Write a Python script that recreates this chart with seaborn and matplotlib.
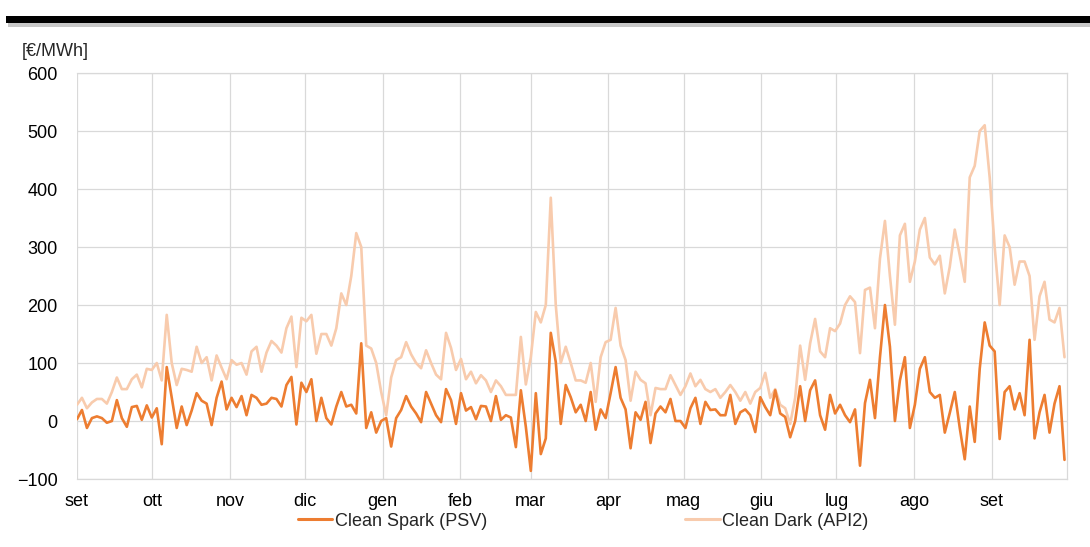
import pandas as pd
import matplotlib.pyplot as plt
from matplotlib.patches import Rectangle
import seaborn as sns

clean_dark = [
    28, 40, 22, 32, 38, 38, 30, 50, 75, 55, 55, 72, 80, 58, 90, 88,
    100, 70, 183, 100, 62, 90, 88, 85, 128, 100, 110, 70, 113, 92, 72,
    105, 97, 100, 80, 120, 128, 85, 118, 138, 130, 118, 160, 180, 93, 178,
    172, 183, 116, 150, 150, 130, 160, 220, 200, 250, 324, 300, 130, 125, 100, 50,
    10, 75, 105, 110, 136, 115, 100, 91, 122, 100, 80, 72, 152, 126, 88,
    107, 72, 85, 65, 79, 70, 50, 70, 60, 45, 45, 45, 145, 63, 110,
    188, 170, 200, 385, 200, 100, 128, 100, 70, 70, 66, 100, 33, 110, 136,
    140, 195, 130, 105, 35, 85, 71, 65, 10, 57, 55, 55, 79, 62, 45,
    60, 82, 60, 71, 55, 50, 55, 40, 50, 62, 50, 35, 50, 30, 50,
    57, 83, 40, 55, 28, 22, -5, 40, 130, 71, 134, 176, 120, 110, 160, 155,
    168, 200, 215, 205, 117, 226, 230, 160, 280, 345, 250, 166, 320, 340, 240, 275,
    330, 350, 282, 270, 285, 220, 266, 330, 286, 240, 420, 440, 500, 510, 420,
    300, 200, 320, 300, 235, 275, 275, 250, 140, 215, 240, 175, 170, 195, 110,
]
clean_spark = [
    3, 19, -12, 5, 8, 5, -3, 0, 36, 5, -10, 24, 26, 2, 27, 6,
    22, -40, 93, 40, -12, 25, -7, 18, 48, 35, 30, -7, 40, 68, 20,
    40, 24, 43, 10, 45, 40, 28, 30, 40, 38, 25, 62, 76, -6, 66,
    50, 72, 0, 40, 5, -6, 25, 50, 25, 28, 13, 134, -12, 15, -20, 0,
    5, -44, 5, 19, 43, 25, 13, -2, 50, 30, 10, -2, 55, 36, -5,
    48, 18, 24, 3, 26, 25, 0, 43, 2, 10, 6, -45, 53, -10, -86,
    48, -57, -30, 152, 102, -5, 62, 41, 15, 28, 0, 50, -15, 20, 5,
    48, 93, 40, 20, -47, 15, 2, 33, -38, 13, 25, 15, 38, 0, 0,
    -12, 22, 40, -5, 33, 19, 20, 10, 10, 45, -5, 15, 20, 10, -19,
    41, 24, 10, 53, 13, 7, -28, 0, 60, 0, 53, 70, 10, -15, 45, 13,
    28, 10, -2, 20, -77, 31, 71, 5, 110, 200, 128, 0, 70, 110, -12, 28,
    90, 110, 50, 40, 45, -20, 14, 50, -12, -66, 25, -36, 90, 170, 130,
    120, -31, 50, 60, 20, 48, 10, 140, -30, 15, 45, -20, 30, 60, -67,
]
month_labels = ["set", "ott", "nov", "dic", "gen", "feb", "mar",
                "apr", "mag", "giu", "lug", "ago", "set"]
y_ticks = [-100, 0, 100, 200, 300, 400, 500, 600]

dates = pd.date_range("2021-09-01", "2022-09-30", periods=len(clean_dark))
df = pd.DataFrame({"data": dates, "Clean Spark (PSV)": clean_spark,
                   "Clean Dark (API2)": clean_dark})

sns.set_style("white")
plt.rcParams["font.family"] = ["Liberation Sans", "DejaVu Sans"]

fig = plt.figure(figsize=(10.9, 5.47), dpi=100)
ax = fig.add_axes([0.0706, 0.1243, 0.9083, 0.7422])

sns.lineplot(data=df, x="data", y="Clean Spark (PSV)", ax=ax, color="#ED7D31",
             linewidth=1.9, label="Clean Spark (PSV)", zorder=3)
sns.lineplot(data=df, x="data", y="Clean Dark (API2)", ax=ax, color="#F8CBAD",
             linewidth=1.9, label="Clean Dark (API2)", zorder=2)

ax.set_xlim(pd.Timestamp("2021-09-01"), pd.Timestamp("2022-10-01"))
ax.set_ylim(-100, 600)
ax.set_yticks(y_ticks)
month_starts = pd.date_range("2021-09-01", "2022-09-01", freq="MS")
ax.set_xticks(month_starts)
ax.set_xticklabels(month_labels)
ax.grid(True, color="#d9d9d9", linewidth=0.9)
ax.tick_params(axis="both", length=0, labelsize=13, colors="#000000")
ax.tick_params(axis="y", pad=14)
ax.tick_params(axis="x", pad=10)
ax.set_xlabel("")
ax.set_ylabel("")
for side, sp in ax.spines.items():
    sp.set_color("#d9d9d9")
    sp.set_linewidth(0.9)
ax.spines["left"].set_visible(False)

ax.get_legend().remove()
handles, labels = ax.get_legend_handles_labels()
leg = fig.legend(handles, labels, loc="center", bbox_to_anchor=(0.535, 1 - 521 / 547),
                 ncol=2, frameon=False, fontsize=13, handlelength=1.9,
                 handletextpad=0.15, columnspacing=11.0)
for line in leg.get_lines():
    line.set_linewidth(2.2)

fig.text(22 / 1090, 1 - 51 / 547, "[€/MWh]", ha="left", va="center", fontsize=13)

# thick bar with a soft shadow at the top
fig.add_artist(Rectangle((8 / 1090, 1 - 27 / 547), 1.0, 4 / 547,
                         transform=fig.transFigure, color="#c8c8c8", lw=0))
fig.add_artist(Rectangle((6 / 1090, 1 - 23 / 547), 1.0, 7 / 547,
                         transform=fig.transFigure, color="#000000", lw=0))

fig.savefig("out.png", dpi=100)
